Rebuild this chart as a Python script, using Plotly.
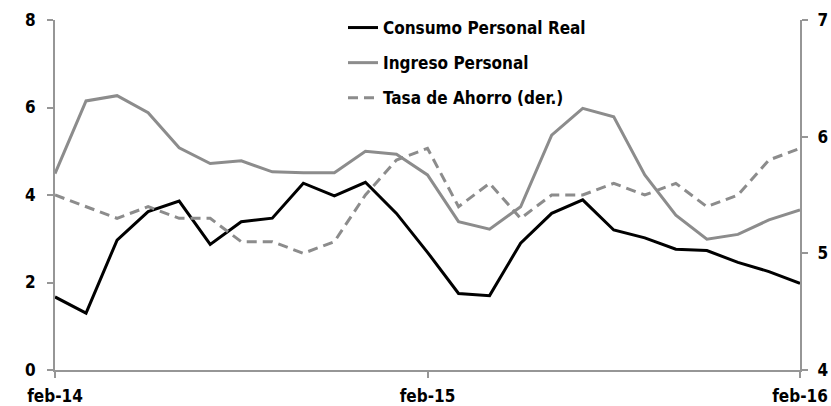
import plotly.graph_objects as go

months = ["feb-14", "mar-14", "abr-14", "may-14", "jun-14", "jul-14", "ago-14", "sep-14",
          "oct-14", "nov-14", "dic-14", "ene-15", "feb-15", "mar-15", "abr-15", "may-15",
          "jun-15", "jul-15", "ago-15", "sep-15", "oct-15", "nov-15", "dic-15", "ene-16", "feb-16"]

consumo = [1.67, 1.30, 2.97, 3.62, 3.86, 2.87, 3.39, 3.47, 4.27, 3.98, 4.29, 3.58, 2.69,
           1.75, 1.70, 2.90, 3.58, 3.89, 3.20, 3.02, 2.76, 2.73, 2.46, 2.25, 1.98]

ingreso = [4.49, 6.15, 6.27, 5.88, 5.08, 4.72, 4.78, 4.53, 4.51, 4.51, 5.00, 4.93, 4.46,
           3.39, 3.22, 3.73, 5.37, 5.98, 5.79, 4.46, 3.54, 2.99, 3.10, 3.43, 3.66]

ahorro = [5.5, 5.4, 5.3, 5.4, 5.3, 5.3, 5.1, 5.1, 5.0, 5.1, 5.5, 5.8, 5.9,
          5.4, 5.6, 5.3, 5.5, 5.5, 5.6, 5.5, 5.6, 5.4, 5.5, 5.8, 5.9]

x_ticks = ["feb-14", "feb-15", "feb-16"]
left_ticks = [0, 2, 4, 6, 8]
right_ticks = [4, 5, 6, 7]

FONT = "Liberation Sans Narrow, Arial Narrow, DejaVu Sans Condensed, sans-serif"
GRAY = "#8c8c8c"
AXIS = "#969696"

fig = go.Figure()
fig.add_trace(go.Scatter(x=months, y=consumo, name="Consumo Personal Real", mode="lines",
                         line=dict(color="black", width=3), legendgroup="a"))
fig.add_trace(go.Scatter(x=months, y=ingreso, name="Ingreso Personal", mode="lines",
                         line=dict(color=GRAY, width=3), legendgroup="b"))
fig.add_trace(go.Scatter(x=months, y=ahorro, name="Tasa de Ahorro (der.)", mode="lines",
                         line=dict(color=GRAY, width=3, dash="10px,6px"), yaxis="y2",
                         legendgroup="c"))

tickfont = dict(family=FONT, size=17, color="black", weight="bold")

fig.update_layout(
    width=831, height=406,
    margin=dict(l=55, r=31, t=20, b=36, autoexpand=False),
    plot_bgcolor="white", paper_bgcolor="white",
    font=dict(family=FONT, size=17, color="black", weight="bold"),
    showlegend=True,
    legend=dict(x=(343 - 55) / 745, y=1.0 + 10 / 350, xanchor="left", yanchor="top",
                bgcolor="rgba(0,0,0,0)", tracegroupgap=10,
                font=dict(family=FONT, size=17, color="black", weight="bold")),
    xaxis=dict(type="category", range=[0, 24], tickvals=x_ticks, ticktext=x_ticks,
               showline=True, linecolor=AXIS, linewidth=2, ticks="outside",
               ticklen=6, tickwidth=2, tickcolor=AXIS, showgrid=False, zeroline=False,
               tickfont=tickfont, automargin=False, ticklabelstandoff=4),
    yaxis=dict(range=[0, 8], tickvals=left_ticks, showline=True, linecolor=AXIS,
               linewidth=2, ticks="outside", ticklen=6, tickwidth=2, tickcolor=AXIS,
               showgrid=False, zeroline=False, tickfont=tickfont, ticklabelstandoff=8,
               automargin=False),
    yaxis2=dict(range=[4, 7], tickvals=right_ticks, overlaying="y", side="right",
                showline=True, linecolor=AXIS, linewidth=2, ticks="outside", ticklen=6,
                tickwidth=2, tickcolor=AXIS, showgrid=False, zeroline=False,
                tickfont=tickfont, ticklabelstandoff=6, automargin=False),
)

fig.write_html("out.html", config={"displayModeBar": False},
               post_script="document.body.style.margin='0px';")
